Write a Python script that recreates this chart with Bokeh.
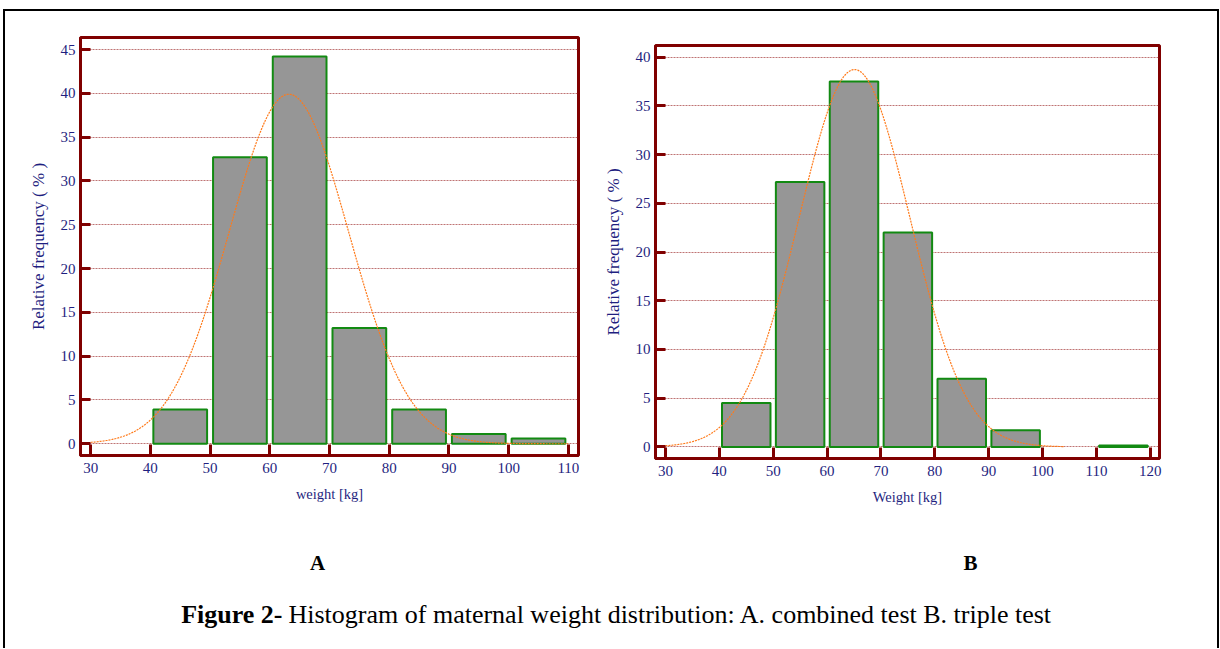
import numpy as np
from bokeh.plotting import figure
from bokeh.models import Range1d, FixedTicker, ColumnDataSource, Label
from bokeh.layouts import column, row
from bokeh.embed import file_html
from bokeh.resources import INLINE

# ---------------- data ----------------
bin_width = 10
a_bin_left = [40, 50, 60, 70, 80, 90, 100]
a_freq = [3.9, 32.7, 44.2, 13.2, 3.9, 1.1, 0.6]
a_fit_mean = 63.2
a_fit_sd = 10.0

b_bin_left = [40, 50, 60, 70, 80, 90, 100, 110]
b_freq = [4.5, 27.2, 37.5, 22.0, 7.0, 1.7, 0.0, 0.15]
b_fit_mean = 65.1
b_fit_sd = 10.3

a_xticks = [30, 40, 50, 60, 70, 80, 90, 100, 110]
a_yticks = [0, 5, 10, 15, 20, 25, 30, 35, 40, 45]
b_xticks = [30, 40, 50, 60, 70, 80, 90, 100, 110, 120]
b_yticks = [0, 5, 10, 15, 20, 25, 30, 35, 40]

a_xlabel = "weight [kg]"
b_xlabel = "Weight [kg]"
ylabel = "Relative frequency ( % )"
panel_a = "A"
panel_b = "B"
caption_bold = "Figure 2-"
caption_rest = "Histogram of maternal weight distribution: A. combined test B. triple test"

# ---------------- style ----------------
MAROON = "#800000"
NAVY = "#1f1f80"
GREEN = "#128a12"
BAR = "#969696"
ORANGE = "#ff7a1a"
FONT = "Liberation Serif"


def chart(width, height, xr, yr, xticks, yticks, bins, freqs, mean, sd, xlab,
          mbl, mbr, mbt, mbb, fit_end):
    p = figure(width=width, height=height, x_range=Range1d(*xr), y_range=Range1d(*yr),
               output_backend="svg", toolbar_location=None, tools="",
               min_border_left=mbl, min_border_right=mbr,
               min_border_top=mbt, min_border_bottom=mbb,
               background_fill_color="white", border_fill_color="white")
    p.frame_align = False
    p.outline_line_color = MAROON
    p.outline_line_width = 3
    p.outline_line_alpha = 1.0
    p.xgrid.grid_line_color = None
    p.ygrid.grid_line_color = "#9a2424"
    p.ygrid.grid_line_dash = "2 1"
    p.ygrid.grid_line_alpha = 0.8
    p.ygrid.grid_line_width = 0.8
    p.xaxis.ticker = FixedTicker(ticks=xticks)
    p.yaxis.ticker = FixedTicker(ticks=yticks)
    for ax in (p.xaxis[0], p.yaxis[0]):
        ax.axis_line_color = MAROON
        ax.axis_line_width = 3
        ax.major_tick_line_color = MAROON
        ax.major_tick_line_width = 3
        ax.major_tick_out = 0
        ax.minor_tick_line_color = None
        ax.major_label_text_font = FONT
        ax.major_label_text_font_size = "15px"
        ax.major_label_text_color = NAVY
        ax.axis_label_text_font = FONT
        ax.axis_label_text_font_style = "normal"
        ax.axis_label_text_color = NAVY
    p.xaxis.major_tick_in = 11
    p.yaxis.major_tick_in = 10
    p.xaxis.major_label_standoff = 7
    p.yaxis.major_label_standoff = 5
    p.xaxis.axis_label = xlab
    p.yaxis.axis_label = ylabel
    p.xaxis.axis_label_text_font_size = "14.5px"
    p.yaxis.axis_label_text_font_size = "17px"
    p.xaxis.axis_label_standoff = 10
    p.yaxis.axis_label_standoff = 10

    left = [b + 0.5 for b, f in zip(bins, freqs) if f > 0]
    right = [b + bin_width - 0.5 for b, f in zip(bins, freqs) if f > 0]
    top = [f for f in freqs if f > 0]
    src = ColumnDataSource(dict(left=left, right=right, top=top, bottom=[0] * len(top)))
    p.quad(left="left", right="right", top="top", bottom="bottom", source=src,
           fill_color=BAR, line_color=GREEN, line_width=2)

    xs = np.linspace(xticks[0], fit_end, 400)
    amp = 100 * bin_width / (sd * np.sqrt(2 * np.pi))
    ys = amp * np.exp(-0.5 * ((xs - mean) / sd) ** 2)
    p.line(xs, ys, line_color=ORANGE, line_width=1.2, line_dash="2 1")
    return p


pA = chart(595, 519, (28.3, 111.7), (-1.34, 46.37), a_xticks, a_yticks,
           a_bin_left, a_freq, a_fit_mean, a_fit_sd, a_xlabel,
           75, 22, 26, 75, 110)
pB = chart(617, 519, (28.16, 121.7), (-1.19, 41.2), b_xticks, b_yticks,
           b_bin_left, b_freq, b_fit_mean, b_fit_sd, b_xlabel,
           50, 58, 34, 72, 104)

pC = figure(width=1212, height=118, x_range=Range1d(5, 1217), y_range=Range1d(648, 530),
            output_backend="svg", toolbar_location=None, tools="",
            x_axis_type=None, y_axis_type=None, min_border=0,
            min_border_left=0, min_border_right=0, min_border_top=0, min_border_bottom=0,
            background_fill_color="white", border_fill_color="white")
pC.frame_align = False
pC.outline_line_color = None
pC.grid.grid_line_color = None
pC.add_layout(Label(x=317, y=562, text=panel_a, text_align="center", text_baseline="middle",
                    text_font=FONT, text_font_style="bold", text_font_size="21px", text_color="black"))
pC.add_layout(Label(x=970, y=562, text=panel_b, text_align="center", text_baseline="middle",
                    text_font=FONT, text_font_style="bold", text_font_size="21px", text_color="black"))
pC.add_layout(Label(x=282, y=614, text=caption_bold, text_align="right", text_baseline="middle",
                    text_font=FONT, text_font_style="bold", text_font_size="26px", text_color="black"))
pC.add_layout(Label(x=288, y=614, text=caption_rest, text_align="left", text_baseline="middle",
                    text_font=FONT, text_font_style="normal", text_font_size="26px", text_color="black"))

layout = column(row(pA, pB), pC, margin=(9, 0, 0, 3),
                styles={"border-top": "2px solid black", "border-left": "2px solid black",
                        "border-right": "2px solid black"})

open("out.html", "w").write(file_html(layout, INLINE))
